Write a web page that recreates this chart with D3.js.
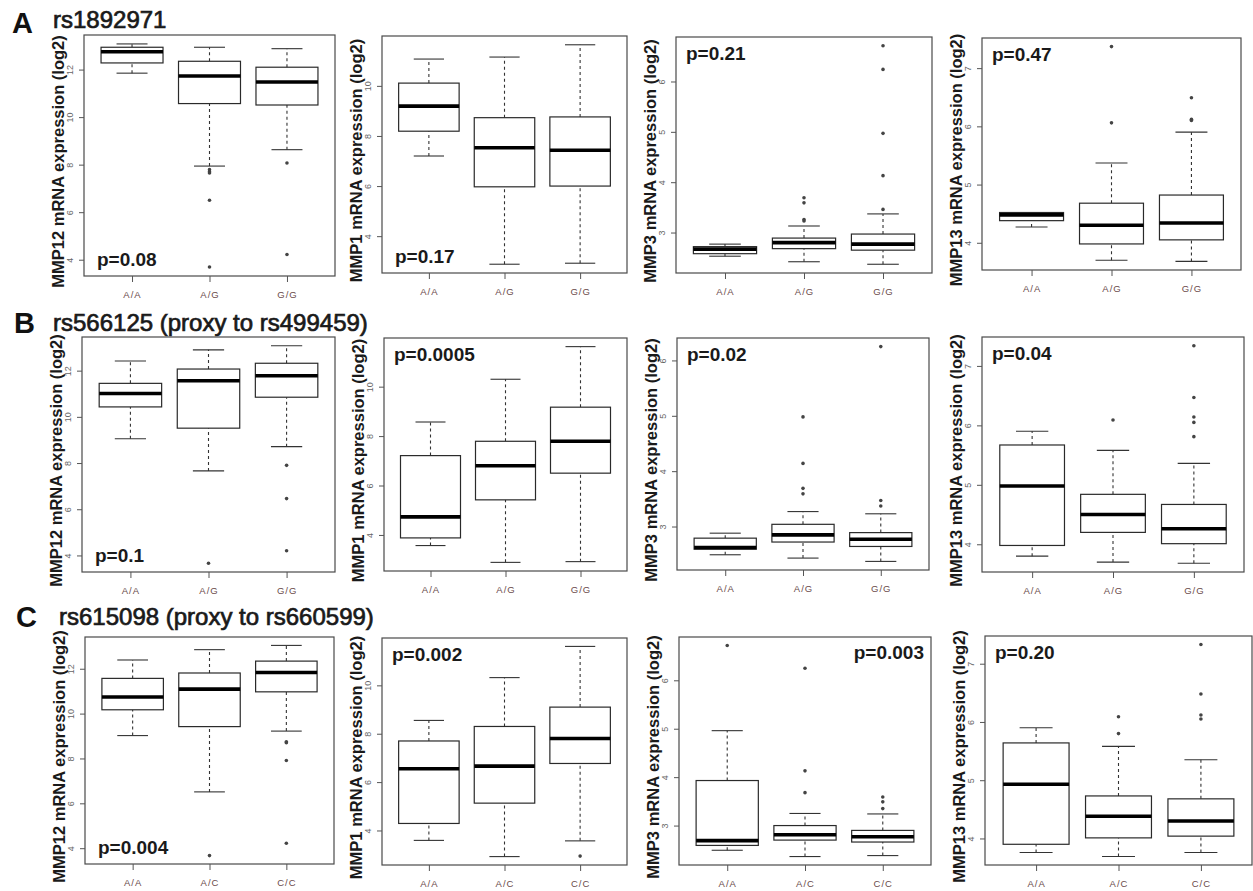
<!DOCTYPE html>
<html>
<head>
<meta charset="utf-8">
<script src="https://cdn.jsdelivr.net/npm/d3@7"></script>
<style>
body { margin: 0; background: #fff; }
text { font-family: "Liberation Sans", Arial, sans-serif; }
</style>
</head>
<body>
<script>
const w = 1253;
const h = 891;

// rows = SNPs, columns = genes
const rowLetters = ["A", "B", "C"];
const rowTitles = ["rs1892971", "rs566125 (proxy to rs499459)", "rs615098 (proxy to rs660599)"];
const genotypes = [["A/A", "A/G", "G/G"], ["A/A", "A/G", "G/G"], ["A/A", "A/C", "C/C"]];
const genes = ["MMP12", "MMP1", "MMP3", "MMP13"];
const yTicks = [[4, 6, 8, 10, 12], [4, 6, 8, 10], [3, 4, 5, 6], [4, 5, 6, 7]];
const pValues = [
	["p=0.08", "p=0.17", "p=0.21", "p=0.47"],
	["p=0.1", "p=0.0005", "p=0.02", "p=0.04"],
	["p=0.004", "p=0.002", "p=0.003", "p=0.20"]
];

// box stats: [lower whisker, Q1, median, Q3, upper whisker]
const statsA_MMP12 = [[11.85, 12.28, 12.75, 12.94, 13.08], [7.94, 10.57, 11.73, 12.35, 12.94], [8.63, 10.51, 11.48, 12.10, 12.88]];
const outA_MMP12 = [[], [7.79, 7.70, 7.65, 6.50, 3.69], [8.07, 4.22]];
const statsA_MMP1 = [[7.20, 8.19, 9.19, 10.11, 11.07], [2.88, 5.97, 7.53, 8.73, 11.15], [2.92, 6.00, 7.43, 8.76, 11.64]];
const outA_MMP1 = [[], [], []];
const statsA_MMP3 = [[2.53, 2.58, 2.67, 2.72, 2.77], [2.42, 2.68, 2.80, 2.89, 3.13], [2.37, 2.65, 2.77, 2.97, 3.37]];
const outA_MMP3 = [[], [3.69, 3.59, 3.26, 3.23], [6.71, 6.24, 4.97, 4.13, 3.46]];
const statsA_MMP13 = [[4.27, 4.38, 4.48, 4.52, 4.52], [3.70, 3.98, 4.30, 4.68, 5.37], [3.68, 4.05, 4.34, 4.82, 5.90]];
const outA_MMP13 = [[], [7.37, 6.06], [6.49, 6.12, 6.10]];

const statsB_MMP12 = [[9.05, 10.43, 11.01, 11.45, 12.42], [7.66, 9.51, 11.56, 12.07, 12.90], [8.71, 10.85, 11.78, 12.32, 13.08]];
const outB_MMP12 = [[], [3.66], [7.90, 6.46, 4.20]];
const statsB_MMP1 = [[3.57, 3.88, 4.73, 7.21, 8.57], [2.89, 5.42, 6.80, 7.79, 10.30], [2.92, 6.50, 7.79, 9.17, 11.62]];
const outB_MMP1 = [[], [], []];
const statsB_MMP3 = [[2.49, 2.59, 2.62, 2.79, 2.88], [2.43, 2.72, 2.85, 3.04, 3.27], [2.37, 2.64, 2.77, 2.89, 3.23]];
const outB_MMP3 = [[], [4.98, 4.14, 3.69, 3.59], [6.25, 3.47, 3.37]];
const statsB_MMP13 = [[3.80, 3.98, 4.98, 5.67, 5.90], [3.70, 4.20, 4.50, 4.84, 5.58], [3.68, 4.01, 4.26, 4.67, 5.36]];
const outB_MMP13 = [[], [6.09], [7.34, 6.47, 6.14, 6.05, 5.81]];

const statsC_MMP12 = [[9.02, 10.17, 10.74, 11.57, 12.39], [6.51, 9.42, 11.09, 11.81, 12.85], [9.22, 10.97, 11.83, 12.34, 13.04]];
const outC_MMP12 = [[], [3.67], [8.74, 8.70, 7.91, 4.22]];
const statsC_MMP1 = [[3.59, 4.29, 6.55, 7.70, 8.55], [2.92, 5.13, 6.66, 8.30, 10.32], [3.57, 6.77, 7.80, 9.10, 11.61]];
const outC_MMP1 = [[], [], [2.94]];
const statsC_MMP3 = [[2.49, 2.59, 2.69, 3.93, 4.96], [2.36, 2.70, 2.81, 3.00, 3.25], [2.38, 2.66, 2.77, 2.90, 3.24]];
const outC_MMP3 = [[6.72], [6.25, 4.13, 3.68], [3.59, 3.49, 3.35]];
const statsC_MMP13 = [[3.76, 3.90, 4.93, 5.64, 5.90], [3.69, 4.01, 4.38, 4.73, 5.58], [3.76, 4.04, 4.30, 4.68, 5.35]];
const outC_MMP13 = [[], [6.09, 5.80], [7.33, 6.48, 6.12, 6.05]];

const allStats = [
	[statsA_MMP12, statsA_MMP1, statsA_MMP3, statsA_MMP13],
	[statsB_MMP12, statsB_MMP1, statsB_MMP3, statsB_MMP13],
	[statsC_MMP12, statsC_MMP1, statsC_MMP3, statsC_MMP13]
];
const allOut = [
	[outA_MMP12, outA_MMP1, outA_MMP3, outA_MMP13],
	[outB_MMP12, outB_MMP1, outB_MMP3, outB_MMP13],
	[outC_MMP12, outC_MMP1, outC_MMP3, outC_MMP13]
];

// layout: plot frames [left, top, right, bottom] and where the p value sits
const frames = [
	[[84, 35, 335, 276], [382, 36, 627, 273], [676, 37, 932, 273], [982, 38, 1241, 270]],
	[[82, 337, 335, 572], [384, 338, 627, 571], [677, 338, 929, 570], [982, 337, 1244, 572]],
	[[85, 637, 334, 864], [382, 638, 627, 865], [679, 637, 931, 865], [985, 636, 1252, 865]]
];
const pPos = [["bl", "bl", "tl", "tl"], ["bl", "tl", "tl", "tl"], ["bl", "tl", "tr", "tl"]];
const titlePos = [[12, 33, 53, 28], [14, 333, 53, 331], [16, 627, 59, 625]];

const svg = d3.select("body")
	.append("svg")
	.attr("width", w)
	.attr("height", h);

svg.append("rect").attr("width", w).attr("height", h).attr("fill", "#fff");

// row titles
rowLetters.forEach((L, r) => {
	const t = titlePos[r];
	svg.append("text").attr("x", t[0]).attr("y", t[1]).text(L)
		.attr("font-size", "29px").attr("font-weight", "bold").attr("fill", "#111");
	svg.append("text").attr("x", t[2]).attr("y", t[3]).text(rowTitles[r])
		.attr("font-size", "24px").attr("fill", "#1a1a1a").attr("stroke", "#1a1a1a").attr("stroke-width", 0.7);
});

function drawPanel(r, c) {
	const f = frames[r][c];
	const stats = allStats[r][c];
	const outs = allOut[r][c];
	const cats = genotypes[r];
	const g = svg.append("g");

	const vals = stats.flat().concat(outs.flat());
	const lo = d3.min(vals), hi = d3.max(vals);
	const pad = (hi - lo) * 0.04;

	const xScale = d3.scaleLinear().domain([0.38, 3.62]).range([f[0], f[2]]);
	const yScale = d3.scaleLinear().domain([lo - pad, hi + pad]).range([f[3], f[1]]);

	const bw = xScale(0.4) - xScale(0);

	stats.forEach((s, i) => {
		const cx = xScale(i + 1);
		// whiskers
		[[s[0], s[1]], [s[3], s[4]]].forEach((seg) => {
			g.append("line")
				.attr("x1", cx).attr("x2", cx)
				.attr("y1", yScale(seg[0])).attr("y2", yScale(seg[1]))
				.attr("stroke", "#333").attr("stroke-width", 1.1)
				.attr("stroke-dasharray", "3,3");
		});
		[s[0], s[4]].forEach((v) => {
			g.append("line")
				.attr("x1", cx - bw / 2).attr("x2", cx + bw / 2)
				.attr("y1", yScale(v)).attr("y2", yScale(v))
				.attr("stroke", "#333").attr("stroke-width", 1.1);
		});
		g.append("rect")
			.attr("x", cx - bw).attr("width", bw * 2)
			.attr("y", yScale(s[3])).attr("height", yScale(s[1]) - yScale(s[3]))
			.attr("fill", "#fff").attr("stroke", "#2a2a2a").attr("stroke-width", 1.2);
		g.append("line")
			.attr("x1", cx - bw).attr("x2", cx + bw)
			.attr("y1", yScale(s[2])).attr("y2", yScale(s[2]))
			.attr("stroke", "#000").attr("stroke-width", 3.6);
		g.selectAll(null)
			.data(outs[i])
			.enter()
			.append("circle")
			.attr("cx", cx).attr("cy", (d) => yScale(d))
			.attr("r", 1.8).attr("fill", "#444");
	});

	// frame
	g.append("rect")
		.attr("x", f[0]).attr("y", f[1])
		.attr("width", f[2] - f[0]).attr("height", f[3] - f[1])
		.attr("fill", "none").attr("stroke", "#4a4a4a").attr("stroke-width", 1.2);

	const yAxis = d3.axisLeft(yScale).tickValues(yTicks[c]).tickFormat(d3.format("d")).tickSize(5);
	const ya = g.append("g").attr("transform", "translate(" + f[0] + ",0)").call(yAxis);
	ya.select(".domain").remove();
	ya.selectAll(".tick line").attr("stroke", "#555");
	ya.selectAll(".tick text")
		.attr("x", null).attr("dy", null)
		.attr("text-anchor", "middle")
		.attr("transform", "translate(-11,0) rotate(-90)")
		.attr("font-size", "9px").attr("fill", "#666")
		.attr("font-family", "\"Liberation Sans\", Arial, sans-serif");

	const xAxis = d3.axisBottom(xScale).tickValues([1, 2, 3]).tickFormat((d) => cats[d - 1]).tickSize(6);
	const xa = g.append("g").attr("transform", "translate(0," + f[3] + ")").call(xAxis);
	xa.select(".domain").remove();
	xa.selectAll(".tick line").attr("stroke", "#555");
	xa.selectAll(".tick text")
		.attr("y", 15).attr("dy", "0.71em")
		.attr("font-size", "9.5px").attr("letter-spacing", "1px").attr("fill", "#6a4a4a")
		.attr("font-family", "\"Liberation Sans\", Arial, sans-serif");

	// axis title
	const cy = (f[1] + f[3]) / 2 + 6;
	g.append("text")
		.attr("transform", "translate(" + (f[0] - 20) + "," + cy + ") rotate(-90)")
		.attr("text-anchor", "middle")
		.attr("font-size", "16.5px").attr("font-weight", "bold").attr("fill", "#1a1a1a")
		.text(genes[c] + " mRNA expression (log2)");

	// p value
	const pos = pPos[r][c];
	const pt = g.append("text").text(pValues[r][c])
		.attr("font-size", "19px").attr("font-weight", "bold").attr("fill", "#1a1a1a");
	if (pos === "bl") pt.attr("x", f[0] + 13).attr("y", f[3] - 10);
	else if (pos === "tl") pt.attr("x", f[0] + 10).attr("y", f[1] + 23);
	else pt.attr("x", f[2] - 7).attr("y", f[1] + 22).attr("text-anchor", "end");
}

for (let r = 0; r < 3; r++) {
	for (let c = 0; c < 4; c++) drawPanel(r, c);
}
</script>
</body>
</html>
